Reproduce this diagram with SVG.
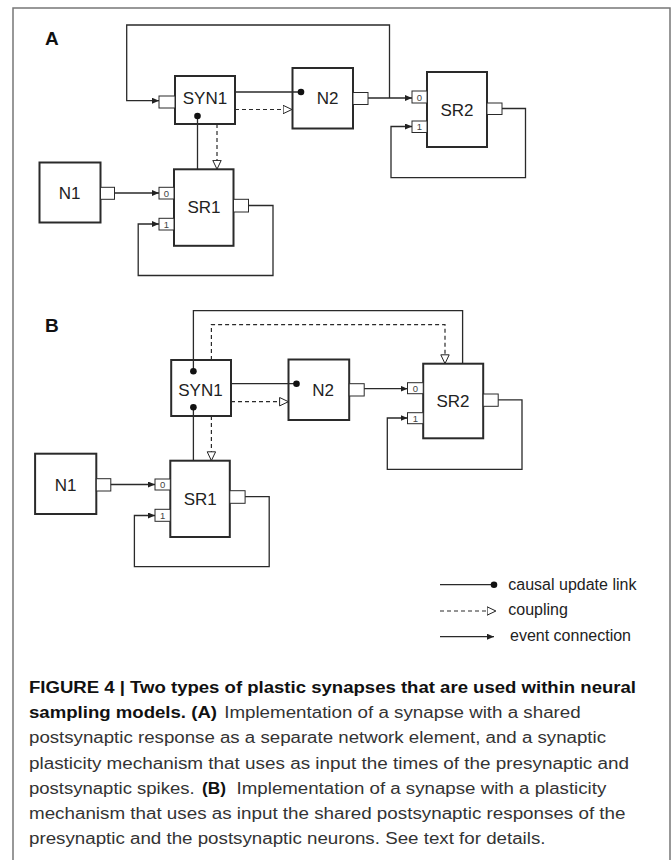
<svg xmlns="http://www.w3.org/2000/svg" width="671" height="860" viewBox="0 0 671 860">
<style>
.box{fill:#fff;stroke:#2a2a2a;stroke-width:2}
.port{fill:#fff;stroke:#2a2a2a;stroke-width:1}
.lbl{font-family:"Liberation Sans",Arial,sans-serif;font-size:17px;fill:#222;text-anchor:middle}
.pl{font-family:"Liberation Sans",Arial,sans-serif;font-size:9.5px;fill:#444;text-anchor:middle}
.ln{fill:none;stroke:#2a2a2a;stroke-width:1.3}
.ds{fill:none;stroke:#2a2a2a;stroke-width:1.2;stroke-dasharray:4 3}
.pan{font-family:"Liberation Sans",Arial,sans-serif;font-size:19px;font-weight:bold;fill:#111}
.leg{font-family:"Liberation Sans",Arial,sans-serif;font-size:16px;fill:#222}
.cb{font-family:"Liberation Sans",Arial,sans-serif;font-size:16px;font-weight:bold;fill:#111}
.cr{font-family:"Liberation Sans",Arial,sans-serif;font-size:16px;fill:#333}
</style>
<defs>
<marker id="arr" viewBox="0 0 7 6" refX="7" refY="3" markerWidth="7" markerHeight="6" orient="auto" markerUnits="userSpaceOnUse"><path d="M0,0 L7,3 L0,6 z" fill="#222"/></marker>
<marker id="tri" viewBox="0 0 10 10" refX="9.5" refY="5" markerWidth="10" markerHeight="10" orient="auto" markerUnits="userSpaceOnUse"><path d="M0.6,0.8 L9.4,5 L0.6,9.2 z" fill="#fff" stroke="#222" stroke-width="1"/></marker>
<marker id="dot" viewBox="0 0 8 8" refX="4" refY="4" markerWidth="8" markerHeight="8" orient="auto" markerUnits="userSpaceOnUse"><circle cx="4" cy="4" r="3.3" fill="#111"/></marker>
</defs>
<rect width="671" height="860" fill="#fff"/>
<g id="frame" fill="none" stroke="#777" stroke-width="1.5">
<path d="M13,860 V8 H670 V860"/>
</g>
<text class="pan" x="45" y="45">A</text>
<text class="pan" x="45" y="332">B</text>

<!-- Panel A nodes -->
<g id="a-syn1">
<rect class="box" x="175" y="76" width="60" height="48"/>
<rect class="port" x="159" y="96" width="16" height="12"/>
<text class="lbl" x="205" y="104">SYN1</text>
</g>
<g id="a-n2">
<rect class="box" x="292.5" y="68" width="60.5" height="60.5"/>
<rect class="port" x="353" y="92.5" width="15" height="12"/>
<text class="lbl" x="327.5" y="104">N2</text>
</g>
<g id="a-sr2">
<rect class="box" x="427" y="72" width="60" height="75"/>
<rect class="port" x="412" y="91" width="15" height="12"/>
<text class="pl" x="419.5" y="100.5">0</text>
<rect class="port" x="412" y="121" width="15" height="11.5"/>
<text class="pl" x="419.5" y="130">1</text>
<rect class="port" x="487" y="103" width="15" height="11.5"/>
<text class="lbl" x="457" y="115.5">SR2</text>
</g>
<g id="a-n1">
<rect class="box" x="39.5" y="162.5" width="61" height="60"/>
<rect class="port" x="100.5" y="187.3" width="14" height="12"/>
<text class="lbl" x="69.5" y="199">N1</text>
</g>
<g id="a-sr1">
<rect class="box" x="174" y="169.3" width="59.5" height="76.5"/>
<rect class="port" x="159" y="187.3" width="15" height="11.7"/>
<text class="pl" x="166.5" y="196.5">0</text>
<rect class="port" x="159" y="218.3" width="15" height="11.7"/>
<text class="pl" x="166.5" y="227.5">1</text>
<rect class="port" x="233.5" y="199.3" width="15" height="12.7"/>
<text class="lbl" x="204" y="213">SR1</text>
</g>

<!-- Panel B nodes -->
<g id="b-syn1">
<rect class="box" x="171.2" y="360" width="59.8" height="56"/>
<text class="lbl" x="200.5" y="395.5">SYN1</text>
</g>
<g id="b-n2">
<rect class="box" x="288.5" y="359.5" width="60.7" height="60.5"/>
<rect class="port" x="349.2" y="383.7" width="15" height="12.3"/>
<text class="lbl" x="323" y="395.5">N2</text>
</g>
<g id="b-sr2">
<rect class="box" x="423.2" y="363.7" width="60" height="74.6"/>
<rect class="port" x="407.5" y="382.7" width="15.7" height="11"/>
<text class="pl" x="415.3" y="391.5">0</text>
<rect class="port" x="407.5" y="412.7" width="15.7" height="11"/>
<text class="pl" x="415.3" y="421.5">1</text>
<rect class="port" x="483.2" y="394" width="15" height="12.3"/>
<text class="lbl" x="453" y="407">SR2</text>
</g>
<g id="b-n1">
<rect class="box" x="35.1" y="453.7" width="61.2" height="60.3"/>
<rect class="port" x="96.3" y="478.7" width="14.5" height="12.3"/>
<text class="lbl" x="65.5" y="490.5">N1</text>
</g>
<g id="b-sr1">
<rect class="box" x="170.3" y="460.7" width="59.5" height="76.3"/>
<rect class="port" x="155" y="479" width="15.3" height="11"/>
<text class="pl" x="162.6" y="488">0</text>
<rect class="port" x="155" y="509.3" width="15.3" height="12"/>
<text class="pl" x="162.6" y="518.8">1</text>
<rect class="port" x="229.8" y="490.7" width="15.3" height="12.6"/>
<text class="lbl" x="200.3" y="505">SR1</text>
</g>

<!-- connectors -->
<g id="connectors">
<!-- Panel A -->
<path class="ln" d="M389.5,98 V25 H126.7 V100.7 H159" marker-end="url(#arr)"/>
<path class="ln" d="M368,98 H412" marker-end="url(#arr)"/>
<path class="ln" d="M235,92 H301" marker-end="url(#dot)"/>
<path class="ds" d="M235,109.5 H292" marker-end="url(#tri)"/>
<path class="ln" d="M197.5,169.3 V116" marker-end="url(#dot)"/>
<path class="ds" d="M217,124 V169.3" marker-end="url(#tri)"/>
<path class="ln" d="M114.5,193 H159" marker-end="url(#arr)"/>
<path class="ln" d="M248.5,205.5 H273 V275.5 H138.2 V224 H159" marker-end="url(#arr)"/>
<path class="ln" d="M502,108.5 H525.5 V177.7 H391 V126.5 H412" marker-end="url(#arr)"/>
<!-- Panel B -->
<path class="ln" d="M462.6,363.7 V310.7 H193.4 V371.3" marker-end="url(#dot)"/>
<path class="ds" d="M211.4,360 V324.7 H445 V363.7" marker-end="url(#tri)"/>
<path class="ln" d="M193.4,460.7 V407.3" marker-end="url(#dot)"/>
<path class="ds" d="M211.4,416 V460.7" marker-end="url(#tri)"/>
<path class="ln" d="M231,383.7 H296.5" marker-end="url(#dot)"/>
<path class="ds" d="M231,401.7 H288.5" marker-end="url(#tri)"/>
<path class="ln" d="M364.2,388.7 H407.5" marker-end="url(#arr)"/>
<path class="ln" d="M110.8,484.5 H155" marker-end="url(#arr)"/>
<path class="ln" d="M245.1,496.7 H269.2 V566.7 H134.4 V515.5 H155" marker-end="url(#arr)"/>
<path class="ln" d="M498.2,399.8 H522 V469.3 H387.3 V418 H407.5" marker-end="url(#arr)"/>
<!-- Legend -->
<path class="ln" d="M440,584.7 H494" marker-end="url(#dot)"/>
<path class="ds" d="M440,611 H496" marker-end="url(#tri)"/>
<path class="ln" d="M440,636.7 H494" marker-end="url(#arr)"/>
</g>

<!-- Legend -->
<g id="legend">
<text class="leg" x="508.3" y="589.5">causal update link</text>
<text class="leg" x="508.3" y="615">coupling</text>
<text class="leg" x="510" y="641">event connection</text>
</g>

<!-- Caption -->
<g id="caption">
<text class="cb" x="29" y="692.7" textLength="607" lengthAdjust="spacingAndGlyphs">FIGURE 4 | Two types of plastic synapses that are used within neural</text>
<text class="cb" x="29" y="717.8" textLength="188" lengthAdjust="spacingAndGlyphs">sampling models. (A)</text>
<text class="cr" x="224.2" y="717.8" textLength="356.5" lengthAdjust="spacingAndGlyphs">Implementation of a synapse with a shared</text>
<text class="cr" x="29" y="743.2" textLength="577" lengthAdjust="spacingAndGlyphs">postsynaptic response as a separate network element, and a synaptic</text>
<text class="cr" x="29" y="768.5" textLength="600" lengthAdjust="spacingAndGlyphs">plasticity mechanism that uses as input the times of the presynaptic and</text>
<text class="cr" x="29" y="793.8" textLength="165.7" lengthAdjust="spacingAndGlyphs">postsynaptic spikes.</text>
<text class="cb" x="202" y="793.8" textLength="24" lengthAdjust="spacingAndGlyphs">(B)</text>
<text class="cr" x="236.6" y="793.8" textLength="369.7" lengthAdjust="spacingAndGlyphs">Implementation of a synapse with a plasticity</text>
<text class="cr" x="29" y="819.1" textLength="596.5" lengthAdjust="spacingAndGlyphs">mechanism that uses as input the shared postsynaptic responses of the</text>
<text class="cr" x="29" y="844.4" textLength="516.5" lengthAdjust="spacingAndGlyphs">presynaptic and the postsynaptic neurons. See text for details.</text>
</g>
</svg>
